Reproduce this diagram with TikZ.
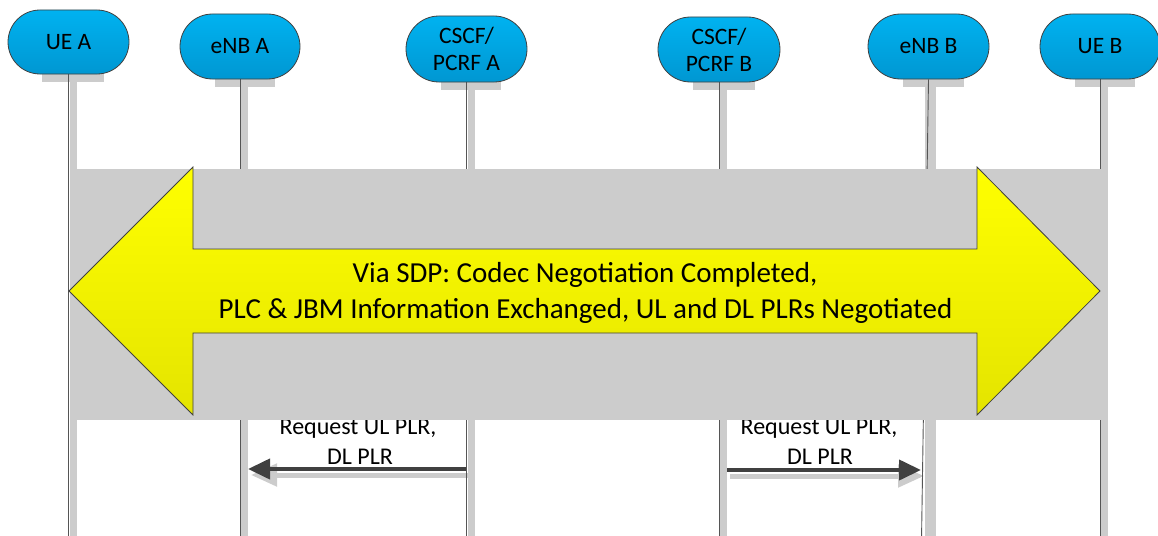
\documentclass[tikz,border=0pt]{standalone}
\usepackage{fontspec}
\setmainfont{Carlito}
\usetikzlibrary{arrows.meta,shapes.misc,calc}
\definecolor{shadowgray}{HTML}{CCCCCC}
\definecolor{edgegray}{HTML}{404040}
\definecolor{linegray}{HTML}{555555}
\definecolor{pilltop}{HTML}{00B2F0}
\definecolor{pillbot}{HTML}{0097D2}
\definecolor{arrowtop}{HTML}{FFFF00}
\definecolor{arrowbot}{HTML}{E4E400}
\pgfdeclarelayer{bg}
\pgfsetlayers{bg,main}
\begin{document}
\begin{tikzpicture}[x=1pt,y=-1pt,
  pill/.style={rounded rectangle, draw=edgegray, line width=0.8pt,
    top color=pilltop, bottom color=pillbot, align=center, inner sep=0pt,
    font=\fontsize{23.5}{27}\selectfont},
  pillshadow/.style={fill=shadowgray},
  lifeline/.style={draw=linegray, line width=0.9pt},
  lifebar/.style={draw=shadowgray, line width=7pt},
  msg/.style={draw=edgegray, line width=4pt, -{Triangle[length=22pt,width=20pt]}},
  msgshadow/.style={draw=shadowgray, line width=5pt, -{Triangle[length=26pt,width=22pt]}, transform canvas={xshift=3pt,yshift=-6pt}},
  msglabel/.style={font=\fontsize{24}{28}\selectfont, inner sep=0pt},
  bigtext/.style={font=\fontsize{29}{36}\selectfont, inner sep=0pt}]
\useasboundingbox (0,0) rectangle (1158,535);

% participants
\node[pill, minimum width=121pt, minimum height=64pt] (uea) at (68.5,42) {UE A};
\node[pill, minimum width=120pt, minimum height=65pt] (ena) at (240,46.5) {eNB A};
\node[pill, minimum width=121pt, minimum height=66pt] (csa) at (466.5,49) {CSCF/\\PCRF A};
\node[pill, minimum width=122pt, minimum height=65pt] (csb) at (719,49.5) {CSCF/\\PCRF B};
\node[pill, minimum width=121pt, minimum height=65pt] (enb) at (928.5,46.5) {eNB B};
\node[pill, minimum width=120pt, minimum height=65pt] (ueb) at (1100,46.5) {UE B};

\coordinate (bot) at (0,540);
\coordinate (msgA) at (0,469);
\coordinate (msgB) at (0,470);

\begin{pgfonlayer}{bg}
  % message arrows (under the lifeline bars)
  \draw[msgshadow] (csa.south |- msgA) -- ($(ena.south |- msgA)+(8,0)$);
  \draw[msg] (csa.south |- msgA) -- ($(ena.south |- msgA)+(8,0)$);
  \draw[msgshadow] ($(csb.south |- msgB)+(8,0)$) -- (921,470);
  \draw[msg] ($(csb.south |- msgB)+(8,0)$) -- (921,470);
  % pill shadows
  \foreach \n in {uea,ena,csa,csb,enb,ueb}{
    \fill[pillshadow] ($(\n.north west)+(2,3)$) rectangle ($(\n.south east)+(7,8)$);
  }
  % lifeline bars
  \foreach \n in {uea,ena,csa,csb,ueb}{
    \draw[lifebar] ($(\n.south)+(4.5,0)$) -- ($(\n.south |- bot)+(4.5,0)$);
  }
  \draw[lifebar, line width=11pt] ($(enb.south)+(1.5,0)$) -- ($(enb.south |- bot)+(1.5,0)$);
  % lifelines
  \foreach \n in {uea,ena,csa,csb,ueb}{
    \draw[lifeline] (\n.south) -- (\n.south |- bot);
  }
  \draw[lifeline] (enb.south) -- ($(enb.south |- bot)+(-7,0)$);
\end{pgfonlayer}

% message labels
\node[msglabel, anchor=base] (la1) at (358,434) {Request UL PLR,};
\node[msglabel, anchor=base] (la2) at (360,464) {DL PLR};
\node[msglabel, anchor=base] (lb1) at (819,434) {Request UL PLR,};
\node[msglabel, anchor=base] (lb2) at (820,464) {DL PLR};

% big gray band
\fill[shadowgray] (70,169) rectangle (1108,420);

% double arrow
\shadedraw[draw=edgegray, line width=0.8pt, top color=arrowtop, bottom color=arrowbot]
  (69,291) -- (193,167) -- (193,249) -- (977,249) -- (977,167) -- (1100,291)
  -- (977,415) -- (977,333) -- (193,333) -- (193,415) -- cycle;

\node[bigtext, anchor=base] (t1) at (585,282) {Via SDP: Codec Negotiation Completed,};
\node[bigtext, anchor=base] (t2) at (585.5,318) {PLC \& JBM Information Exchanged, UL and DL PLRs Negotiated};
\end{tikzpicture}
\end{document}
